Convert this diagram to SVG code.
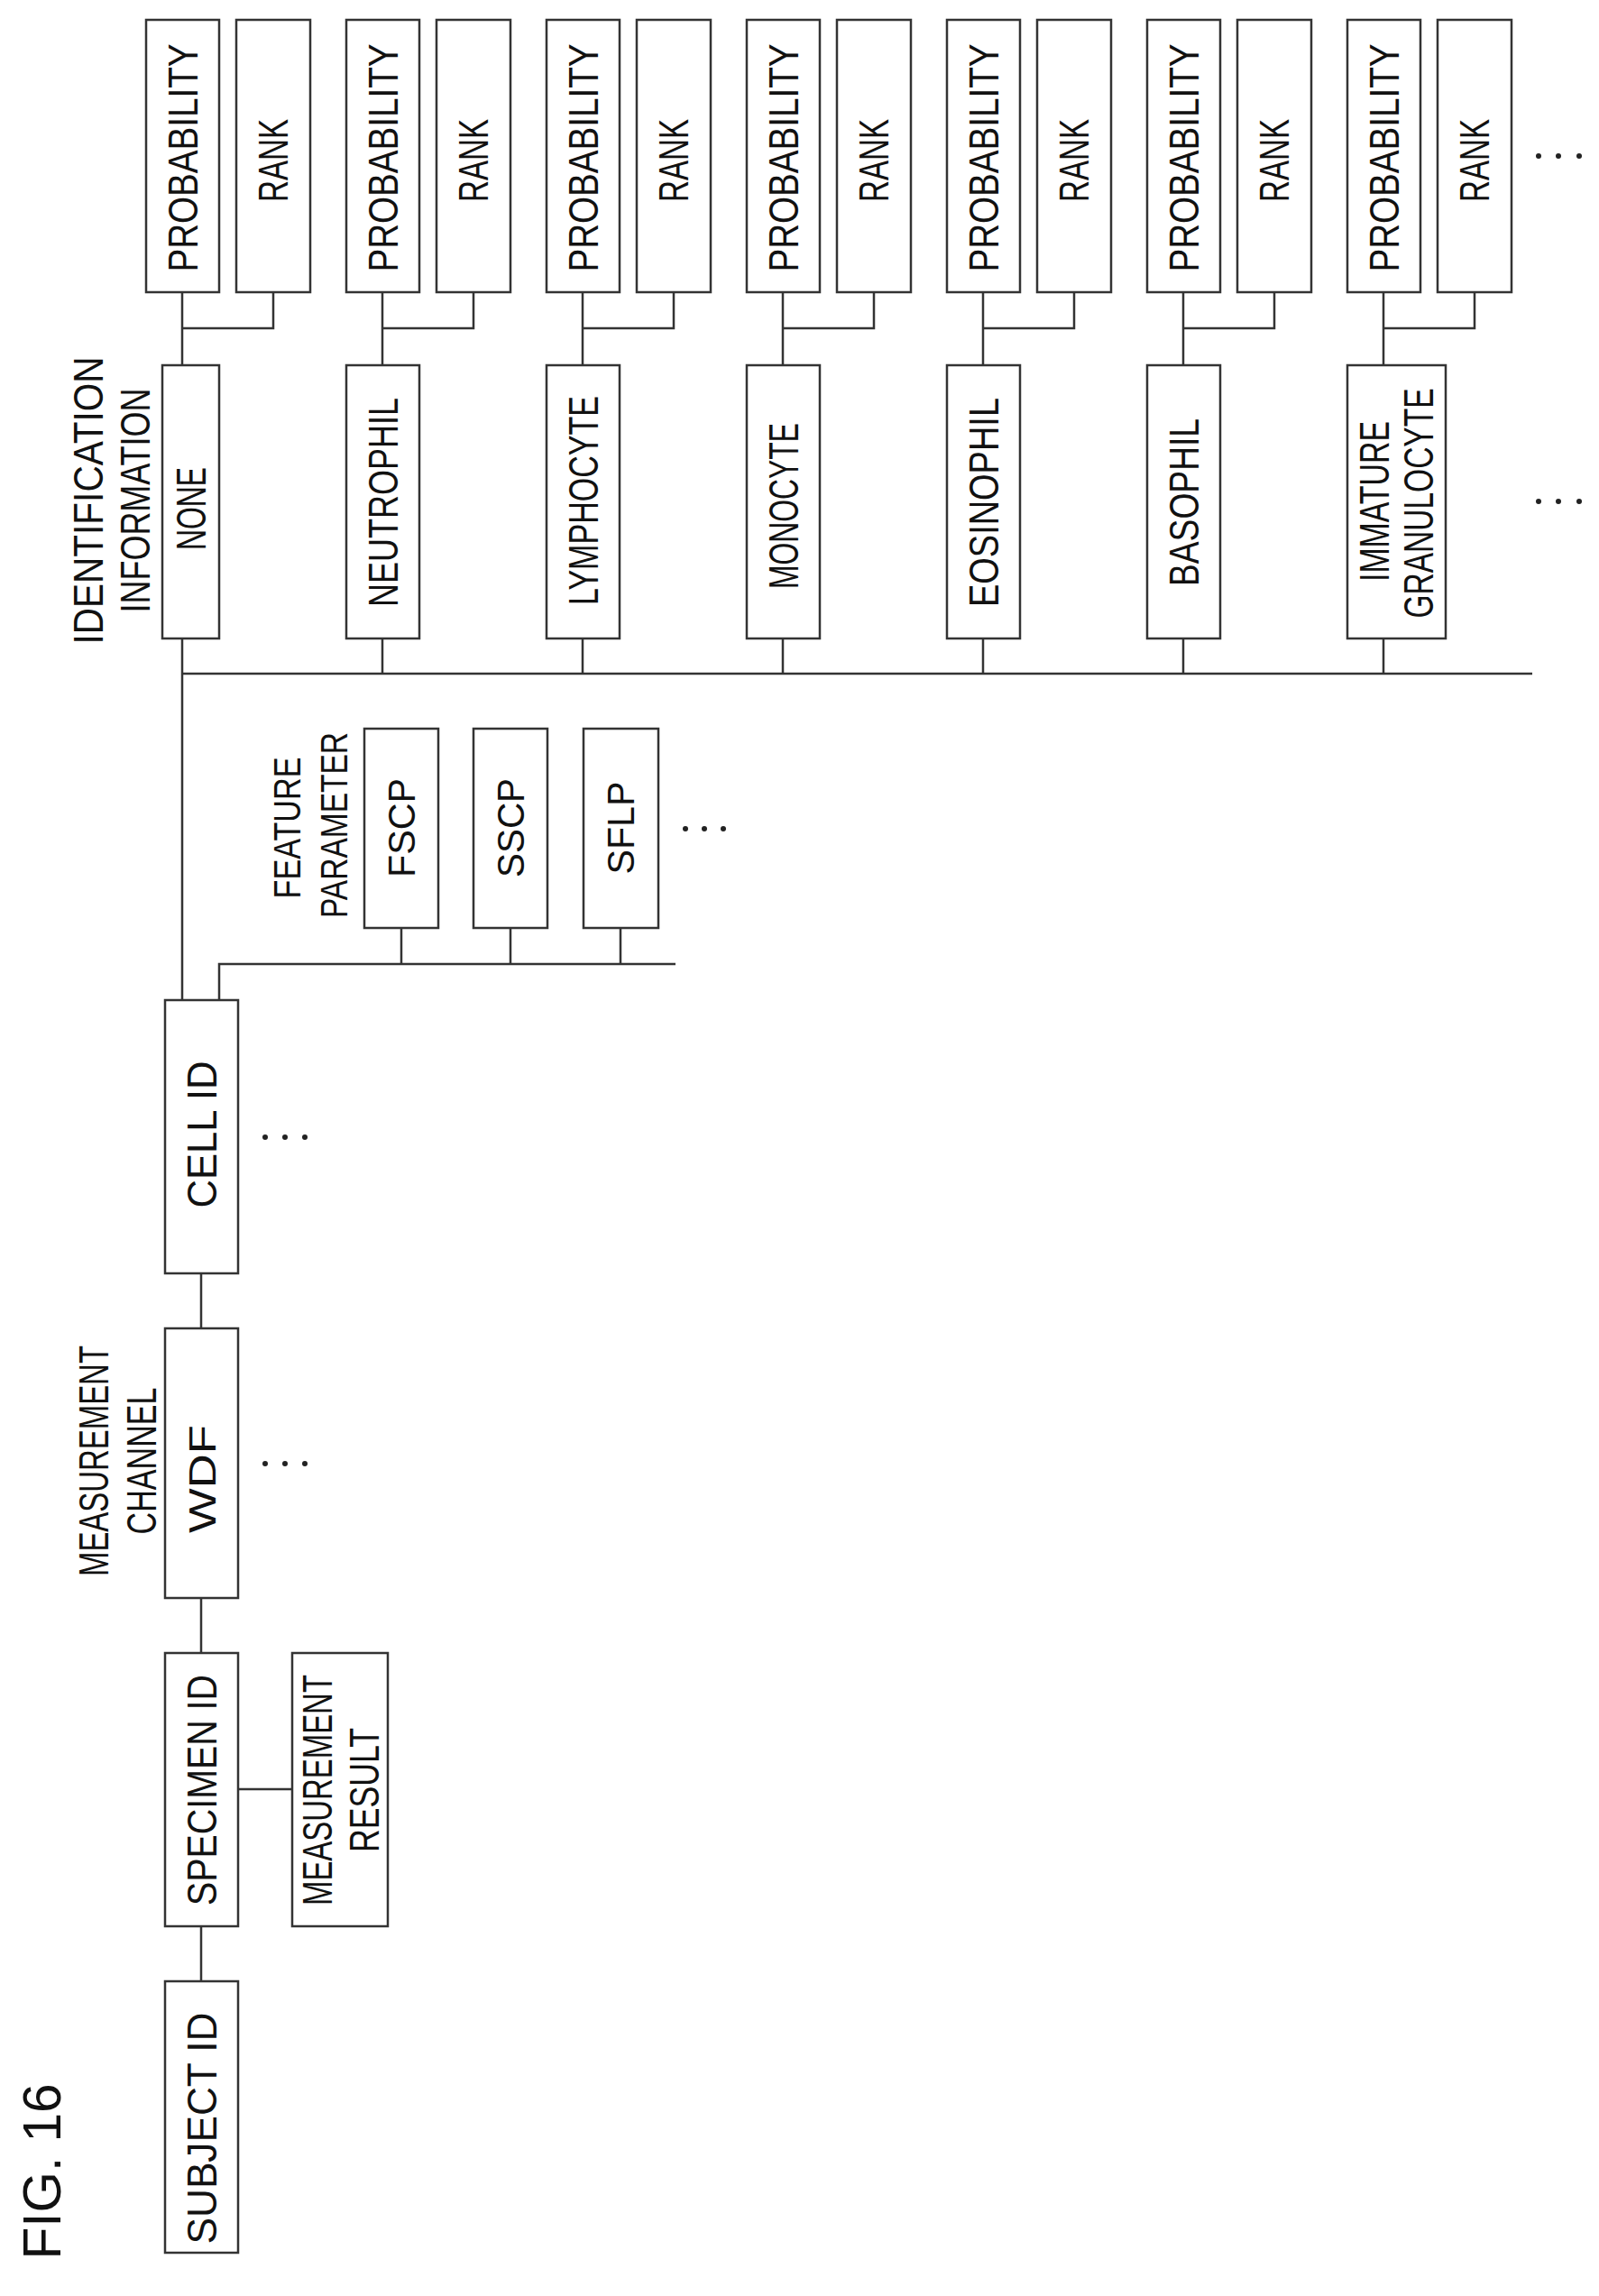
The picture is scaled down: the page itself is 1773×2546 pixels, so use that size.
<svg xmlns="http://www.w3.org/2000/svg" width="1773" height="2546" viewBox="0 0 1773 2546">
<style>
rect{fill:#fff;stroke:#333;stroke-width:2.5}
line,polyline{stroke:#333;stroke-width:2.5;fill:none}
text{font-family:"Liberation Sans",Arial,sans-serif;font-size:46px;fill:#111;text-anchor:middle;dominant-baseline:central}
.a{font-size:42px}
.d{fill:#222}
</style>
<rect x="0" y="0" width="1773" height="2546" style="fill:#fff;stroke:none"/>
<g id="connectors">
<line x1="202" y1="747" x2="202" y2="1109"/>
<line x1="202" y1="747" x2="1699" y2="747"/>
<line x1="202" y1="708" x2="202" y2="747"/>
<line x1="424" y1="708" x2="424" y2="747"/>
<line x1="646" y1="708" x2="646" y2="747"/>
<line x1="868" y1="708" x2="868" y2="747"/>
<line x1="1090" y1="708" x2="1090" y2="747"/>
<line x1="1312" y1="708" x2="1312" y2="747"/>
<line x1="1534" y1="708" x2="1534" y2="747"/>
<polyline points="202,405 202,324 202,364 303,364 303,324"/>
<polyline points="424,405 424,324 424,364 525,364 525,324"/>
<polyline points="646,405 646,324 646,364 747,364 747,324"/>
<polyline points="868,405 868,324 868,364 969,364 969,324"/>
<polyline points="1090,405 1090,324 1090,364 1191,364 1191,324"/>
<polyline points="1312,405 1312,324 1312,364 1413,364 1413,324"/>
<polyline points="1534,405 1534,324 1534,364 1635,364 1635,324"/>
<polyline points="243,1109 243,1069 749,1069"/>
<line x1="445" y1="1029" x2="445" y2="1069"/>
<line x1="566" y1="1029" x2="566" y2="1069"/>
<line x1="688" y1="1029" x2="688" y2="1069"/>
<line x1="223" y1="1412" x2="223" y2="1473"/>
<line x1="223" y1="1772" x2="223" y2="1833"/>
<line x1="223" y1="2136" x2="223" y2="2197"/>
<line x1="264" y1="1984" x2="324" y2="1984"/>
</g>
<g id="fig"><text transform="translate(46,2408) rotate(-90)" style="font-size:60px" textLength="195" lengthAdjust="spacingAndGlyphs">FIG. 16</text></g>
<g id="id-label">
<text transform="translate(98,555) rotate(-90)" textLength="319" lengthAdjust="spacingAndGlyphs">IDENTIFICATION</text>
<text transform="translate(150,555) rotate(-90)" textLength="249" lengthAdjust="spacingAndGlyphs">INFORMATION</text>
</g>
<g id="pr1"><rect x="162" y="22" width="81" height="302"/><text transform="translate(203,175) rotate(-90)" textLength="253" lengthAdjust="spacingAndGlyphs">PROBABILITY</text></g>
<g id="rk1"><rect x="262" y="22" width="82" height="302"/><text transform="translate(303,178) rotate(-90)" textLength="92" lengthAdjust="spacingAndGlyphs">RANK</text></g>
<g id="pr2"><rect x="384" y="22" width="81" height="302"/><text transform="translate(425,175) rotate(-90)" textLength="253" lengthAdjust="spacingAndGlyphs">PROBABILITY</text></g>
<g id="rk2"><rect x="484" y="22" width="82" height="302"/><text transform="translate(525,178) rotate(-90)" textLength="92" lengthAdjust="spacingAndGlyphs">RANK</text></g>
<g id="pr3"><rect x="606" y="22" width="81" height="302"/><text transform="translate(647,175) rotate(-90)" textLength="253" lengthAdjust="spacingAndGlyphs">PROBABILITY</text></g>
<g id="rk3"><rect x="706" y="22" width="82" height="302"/><text transform="translate(747,178) rotate(-90)" textLength="92" lengthAdjust="spacingAndGlyphs">RANK</text></g>
<g id="pr4"><rect x="828" y="22" width="81" height="302"/><text transform="translate(869,175) rotate(-90)" textLength="253" lengthAdjust="spacingAndGlyphs">PROBABILITY</text></g>
<g id="rk4"><rect x="928" y="22" width="82" height="302"/><text transform="translate(969,178) rotate(-90)" textLength="92" lengthAdjust="spacingAndGlyphs">RANK</text></g>
<g id="pr5"><rect x="1050" y="22" width="81" height="302"/><text transform="translate(1091,175) rotate(-90)" textLength="253" lengthAdjust="spacingAndGlyphs">PROBABILITY</text></g>
<g id="rk5"><rect x="1150" y="22" width="82" height="302"/><text transform="translate(1191,178) rotate(-90)" textLength="92" lengthAdjust="spacingAndGlyphs">RANK</text></g>
<g id="pr6"><rect x="1272" y="22" width="81" height="302"/><text transform="translate(1313,175) rotate(-90)" textLength="253" lengthAdjust="spacingAndGlyphs">PROBABILITY</text></g>
<g id="rk6"><rect x="1372" y="22" width="82" height="302"/><text transform="translate(1413,178) rotate(-90)" textLength="92" lengthAdjust="spacingAndGlyphs">RANK</text></g>
<g id="pr7"><rect x="1494" y="22" width="81" height="302"/><text transform="translate(1535,175) rotate(-90)" textLength="253" lengthAdjust="spacingAndGlyphs">PROBABILITY</text></g>
<g id="rk7"><rect x="1594" y="22" width="82" height="302"/><text transform="translate(1635,178) rotate(-90)" textLength="92" lengthAdjust="spacingAndGlyphs">RANK</text></g>
<g id="dots-top"><circle class="d" cx="1706" cy="173" r="3"/><circle class="d" cx="1728" cy="173" r="3"/><circle class="d" cx="1751" cy="173" r="3"/></g>
<g id="none"><rect x="180" y="405" width="63" height="303"/><text transform="translate(212,564) rotate(-90)" textLength="92" lengthAdjust="spacingAndGlyphs">NONE</text></g>
<g id="neutrophil"><rect x="384" y="405" width="81" height="303"/><text transform="translate(425,557) rotate(-90)" textLength="232" lengthAdjust="spacingAndGlyphs">NEUTROPHIL</text></g>
<g id="lymphocyte"><rect x="606" y="405" width="81" height="303"/><text transform="translate(647,555) rotate(-90)" textLength="232" lengthAdjust="spacingAndGlyphs">LYMPHOCYTE</text></g>
<g id="monocyte"><rect x="828" y="405" width="81" height="303"/><text transform="translate(869,561) rotate(-90)" textLength="184" lengthAdjust="spacingAndGlyphs">MONOCYTE</text></g>
<g id="eosinophil"><rect x="1050" y="405" width="81" height="303"/><text transform="translate(1091,557) rotate(-90)" textLength="232" lengthAdjust="spacingAndGlyphs">EOSINOPHIL</text></g>
<g id="basophil"><rect x="1272" y="405" width="81" height="303"/><text transform="translate(1313,557) rotate(-90)" textLength="186" lengthAdjust="spacingAndGlyphs">BASOPHIL</text></g>
<g id="immature"><rect x="1494" y="405" width="109" height="303"/><text transform="translate(1524,556) rotate(-90)" textLength="178" lengthAdjust="spacingAndGlyphs">IMMATURE</text><text transform="translate(1573,558) rotate(-90)" textLength="255" lengthAdjust="spacingAndGlyphs">GRANULOCYTE</text></g>
<g id="dots-mid"><circle class="d" cx="1706" cy="556" r="3"/><circle class="d" cx="1728" cy="556" r="3"/><circle class="d" cx="1751" cy="556" r="3"/></g>
<g id="fp-label">
<text class="a" transform="translate(318,918) rotate(-90)" textLength="157" lengthAdjust="spacingAndGlyphs">FEATURE</text>
<text class="a" transform="translate(370,915) rotate(-90)" textLength="206" lengthAdjust="spacingAndGlyphs">PARAMETER</text>
</g>
<g id="fscp"><rect x="404" y="808" width="82" height="221"/><text class="a" transform="translate(445,918) rotate(-90)" textLength="110" lengthAdjust="spacingAndGlyphs">FSCP</text></g>
<g id="sscp"><rect x="525" y="808" width="82" height="221"/><text class="a" transform="translate(566,918) rotate(-90)" textLength="110" lengthAdjust="spacingAndGlyphs">SSCP</text></g>
<g id="sflp"><rect x="647" y="808" width="83" height="221"/><text class="a" transform="translate(688,918) rotate(-90)" textLength="103" lengthAdjust="spacingAndGlyphs">SFLP</text></g>
<g id="dots-fp"><circle class="d" cx="760" cy="919" r="3"/><circle class="d" cx="781" cy="919" r="3"/><circle class="d" cx="802" cy="919" r="3"/></g>
<g id="cell"><rect x="183" y="1109" width="81" height="303"/><text transform="translate(224,1258) rotate(-90)" textLength="163" lengthAdjust="spacingAndGlyphs">CELL ID</text></g>
<g id="dots-cell"><circle class="d" cx="294" cy="1261" r="3"/><circle class="d" cx="316" cy="1261" r="3"/><circle class="d" cx="338" cy="1261" r="3"/></g>
<g id="mc-label">
<text transform="translate(104,1620) rotate(-90)" textLength="256" lengthAdjust="spacingAndGlyphs">MEASUREMENT</text>
<text transform="translate(157,1620) rotate(-90)" textLength="163" lengthAdjust="spacingAndGlyphs">CHANNEL</text>
</g>
<g id="wdf"><rect x="183" y="1473" width="81" height="299"/><text class="a" transform="translate(224,1640) rotate(-90)" textLength="120" lengthAdjust="spacingAndGlyphs">WDF</text></g>
<g id="dots-wdf"><circle class="d" cx="294" cy="1623" r="3"/><circle class="d" cx="316" cy="1623" r="3"/><circle class="d" cx="338" cy="1623" r="3"/></g>
<g id="specimen"><rect x="183" y="1833" width="81" height="303"/><text transform="translate(224,1985) rotate(-90)" textLength="256" lengthAdjust="spacingAndGlyphs">SPECIMEN ID</text></g>
<g id="result"><rect x="324" y="1833" width="106" height="303"/><text transform="translate(352,1985) rotate(-90)" textLength="256" lengthAdjust="spacingAndGlyphs">MEASUREMENT</text><text transform="translate(404,1985) rotate(-90)" textLength="138" lengthAdjust="spacingAndGlyphs">RESULT</text></g>
<g id="subject"><rect x="183" y="2197" width="81" height="301"/><text transform="translate(224,2360) rotate(-90)" textLength="257" lengthAdjust="spacingAndGlyphs">SUBJECT ID</text></g>
</svg>
